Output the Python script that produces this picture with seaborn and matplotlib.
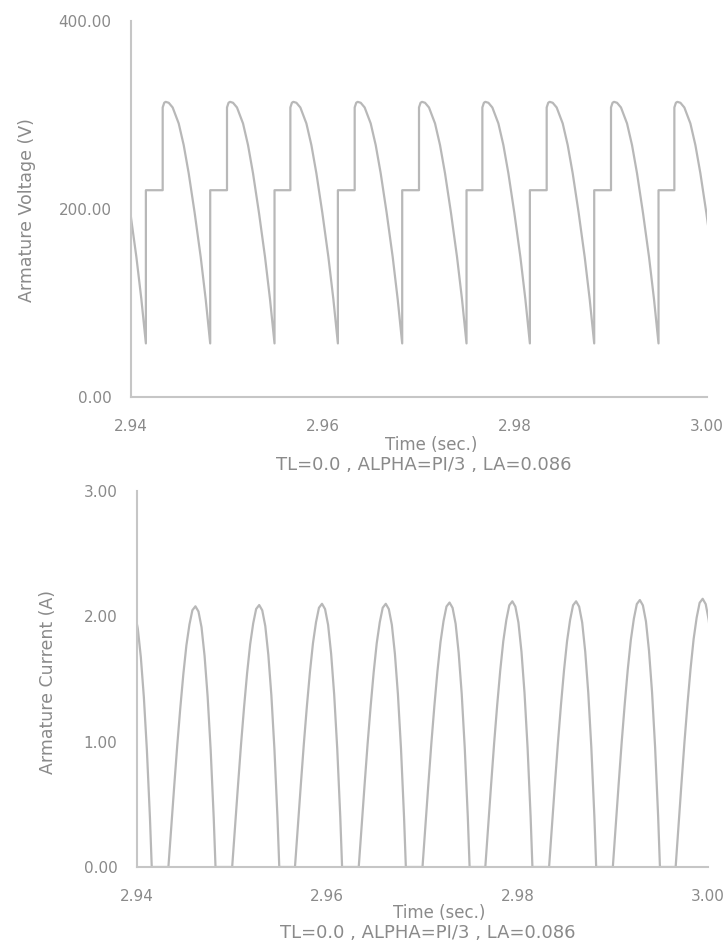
import numpy as np
import pandas as pd
import matplotlib
matplotlib.use("Agg")
import matplotlib.pyplot as plt
import seaborn as sns
from matplotlib.ticker import MultipleLocator, FormatStrFormatter

# Thyristor firing instants (s) for each 150 Hz converter pulse
fire_times = [2.9366, 2.9433, 2.9500, 2.9566, 2.9633,
              2.9700, 2.9766, 2.9833, 2.9900, 2.9966]

# Armature voltage over one pulse, time measured from firing (ms)
volt_offset_ms = [0.00, 0.00, 0.16, 0.31, 0.63, 1.04, 1.67, 2.19,
                  2.71, 3.33, 3.96, 4.48, 4.95, 4.95]
volt_values = [220, 308, 313, 314, 313, 308, 291, 268,
               238, 196, 149, 104, 57, 220]

# Armature current pulse shape (fraction of pulse peak), time from firing (ms)
cur_offset_ms = [0.00, 0.29, 0.61, 0.93, 1.25, 1.57, 1.89, 2.21, 2.52,
                 2.84, 3.16, 3.48, 3.80, 4.12, 4.44, 4.76, 4.95]
cur_shape = [0.0, 0.149, 0.31, 0.467, 0.61, 0.74, 0.85, 0.93, 0.985,
             1.0, 0.98, 0.92, 0.81, 0.655, 0.45, 0.19, 0.0]
cur_peaks = [2.07, 2.08, 2.09, 2.10, 2.10, 2.11, 2.12, 2.12, 2.13, 2.14]

x_ticks = [2.94, 2.96, 2.98, 3.00]
volt_ticks = [0, 200, 400]
cur_ticks = [0, 1, 2, 3]
x_label = "Time (sec.)"
caption = "TL=0.0 , ALPHA=PI/3 , LA=0.086"

# Assemble the waveforms pulse by pulse
volt_rows, cur_rows = [], []
for k, tf in enumerate(fire_times):
    for off, v in zip(volt_offset_ms, volt_values):
        volt_rows.append((tf + off / 1000.0, v))
    for off, s in zip(cur_offset_ms, cur_shape):
        cur_rows.append((tf + off / 1000.0, s * cur_peaks[k]))
volt_df = pd.DataFrame(volt_rows, columns=["t", "v"])
cur_df = pd.DataFrame(cur_rows, columns=["t", "i"])

sns.set_theme(style="white")
plt.rcParams["font.family"] = ["DejaVu Sans"]

LINE = "#b8b8b8"
AXIS = "#c6c6c6"
TEXT = "#8a8a8a"
W, H = 728, 949

fig = plt.figure(figsize=(W / 100, H / 100), dpi=100)
ax1 = fig.add_axes([131 / W, 1 - 397 / H, 576 / W, 376 / H])
ax2 = fig.add_axes([137 / W, 1 - 867 / H, 571 / W, 376 / H])

sns.lineplot(data=volt_df, x="t", y="v", estimator=None, sort=False,
             ax=ax1, color=LINE, lw=1.6)
sns.lineplot(data=cur_df, x="t", y="i", estimator=None, sort=False,
             ax=ax2, color=LINE, lw=1.6)

for ax, yt, ymax, yminor in ((ax1, volt_ticks, 400, 100), (ax2, cur_ticks, 3, 0.5)):
    ax.set_xlim(2.94, 3.00)
    ax.set_ylim(0, ymax)
    ax.set_xticks(x_ticks)
    ax.set_yticks(yt)
    ax.xaxis.set_minor_locator(MultipleLocator(0.01))
    ax.yaxis.set_minor_locator(MultipleLocator(yminor))
    ax.xaxis.set_major_formatter(FormatStrFormatter("%.2f"))
    ax.yaxis.set_major_formatter(FormatStrFormatter("%.2f"))
    ax.set_xlabel("")
    ax.set_ylabel("")
    sns.despine(ax=ax)
    for side in ("left", "bottom"):
        ax.spines[side].set_color(AXIS)
        ax.spines[side].set_linewidth(1.5)
    ax.tick_params(which="major", direction="out", length=7, width=1.2,
                   color=AXIS, labelcolor=TEXT, labelsize=11)
    ax.tick_params(which="minor", direction="out", length=3.5, width=1.2,
                   color=AXIS)
    ax.tick_params(axis="x", which="major", pad=9)
    ax.tick_params(axis="y", which="major", pad=7)
    ax.set_facecolor("white")

# Axis titles and run parameters
fig.text(27 / W, 1 - 210 / H, "Armature Voltage (V)", rotation=90,
         ha="center", va="center", color=TEXT, fontsize=12.5)
fig.text(48 / W, 1 - 682 / H, "Armature Current (A)", rotation=90,
         ha="center", va="center", color=TEXT, fontsize=12.5)
fig.text(431 / W, 1 - 445 / H, x_label, ha="center", va="center",
         color=TEXT, fontsize=12)
fig.text(424 / W, 1 - 465 / H, caption, ha="center", va="center",
         color=TEXT, fontsize=13)
fig.text(439 / W, 1 - 913 / H, x_label, ha="center", va="center",
         color=TEXT, fontsize=12)
fig.text(428 / W, 1 - 933 / H, caption, ha="center", va="center",
         color=TEXT, fontsize=13)

fig.savefig("out.png", dpi=100, facecolor="white")
